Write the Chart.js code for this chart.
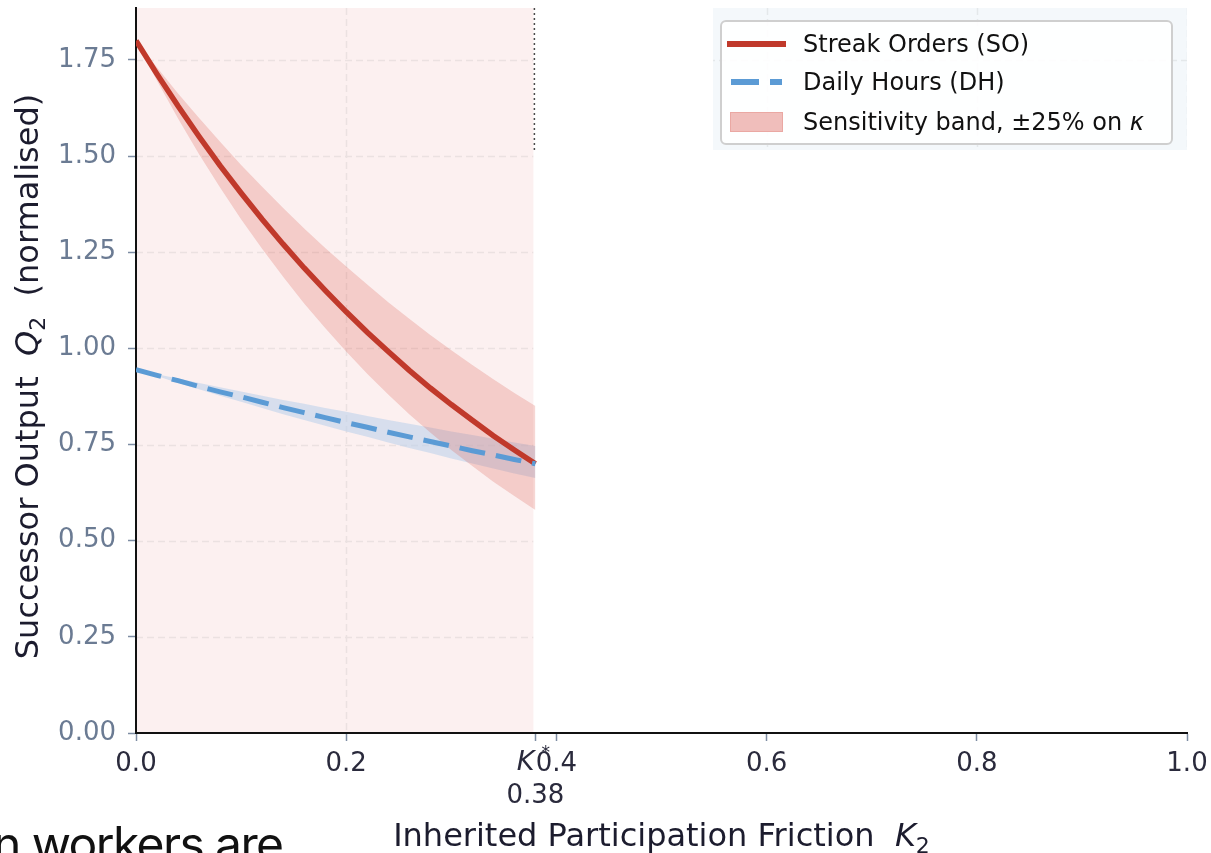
<!DOCTYPE html>
<html>
<head>
<meta charset="utf-8">
<script src="https://cdn.jsdelivr.net/npm/chart.js@4.4.1/dist/chart.umd.min.js"></script>
<style>
html, body { margin: 0; padding: 0; background: #fff; overflow: hidden; }
#wrap { position: relative; width: 1211px; height: 853px; }
#legend { position: absolute; left: 720px; top: 20px; width: 449px; height: 121px;
  border: 2px solid #cfcfcf; border-radius: 6px; background: rgba(255,255,255,0.9);
  font-family: "DejaVu Sans"; font-size: 24px; color: #111; }
.row { position: absolute; left: 0; height: 39px; display: flex; align-items: center; white-space: nowrap; }
.sw { position: relative; width: 59px; height: 20px; margin-left: 5px; margin-right: 17px; }
#tail { position: absolute; left: -7px; top: 814px; font-family: Inter; font-size: 48px;
  letter-spacing: -1.6px; color: #111; white-space: nowrap; }
</style>
</head>
<body>
<div id="wrap">
  <canvas id="myChart" width="1211" height="853"></canvas>
  <div id="legend">
    <div class="row" style="top:2px">
      <div class="sw"><div style="position:absolute;left:0;top:7px;width:59px;height:6px;background:#c0392b"></div></div>
      <span>Streak Orders (SO)</span>
    </div>
    <div class="row" style="top:40px">
      <div class="sw">
        <div style="position:absolute;left:4px;top:7px;width:28px;height:6px;background:#5b9bd5"></div>
        <div style="position:absolute;left:43px;top:7px;width:12px;height:6px;background:#5b9bd5"></div>
      </div>
      <span>Daily Hours (DH)</span>
    </div>
    <div class="row" style="top:80px">
      <div class="sw"><div style="position:absolute;left:3px;top:0;width:51px;height:18px;background:#f0bebb;border:1px solid #eaa8a3"></div></div>
      <span>Sensitivity band, ±25% on <i>κ</i></span>
    </div>
  </div>
  <div id="tail">n workers are</div>
</div>
<script>
// values
const friction  = [0, 0.02, 0.04, 0.06, 0.08, 0.10, 0.12, 0.14, 0.16, 0.18, 0.20,
                   0.22, 0.24, 0.26, 0.28, 0.30, 0.32, 0.34, 0.36, 0.38];
const soCentral = [1.800, 1.713, 1.630, 1.551, 1.475, 1.404, 1.336, 1.271, 1.209, 1.151, 1.095,
                   1.042, 0.992, 0.943, 0.897, 0.854, 0.813, 0.773, 0.736, 0.700];
const soUpper   = [1.800, 1.730, 1.663, 1.599, 1.537, 1.477, 1.420, 1.365, 1.312, 1.261, 1.213,
                   1.166, 1.120, 1.077, 1.035, 0.995, 0.957, 0.920, 0.884, 0.850];
const soLower   = [1.800, 1.696, 1.598, 1.505, 1.418, 1.336, 1.259, 1.186, 1.117, 1.053, 0.992,
                   0.934, 0.880, 0.829, 0.781, 0.736, 0.694, 0.653, 0.616, 0.580];
const dhCentral = [0.945, 0.930, 0.916, 0.901, 0.887, 0.874, 0.860, 0.846, 0.833, 0.820, 0.807,
                   0.795, 0.782, 0.770, 0.758, 0.746, 0.734, 0.723, 0.711, 0.700];
const dhUpper   = [0.945, 0.933, 0.922, 0.910, 0.899, 0.888, 0.877, 0.866, 0.856, 0.845, 0.835,
                   0.824, 0.814, 0.804, 0.794, 0.784, 0.775, 0.765, 0.755, 0.746];
const dhLower   = [0.945, 0.928, 0.910, 0.894, 0.877, 0.861, 0.845, 0.829, 0.814, 0.799, 0.784,
                   0.770, 0.755, 0.741, 0.728, 0.714, 0.701, 0.688, 0.675, 0.663];
const xTickValues = [0, 0.2, 0.38, 0.4, 0.6, 0.8, 1.0];
const kStar = 0.38;
const legendPanelFrom = [0.549, 1.516]; // x and y where the pale panel behind the legend starts

function pts(ys) {
  return friction.map((x, i) => ({x: x, y: ys[i]}));
}

// draws a run of text pieces [text, font, dy] centred on (0,0)
function drawParts(ctx, parts) {
  let total = 0;
  parts.forEach(p => { ctx.font = p[1]; total += ctx.measureText(p[0]).width; });
  let cx = -total / 2;
  parts.forEach(p => {
    ctx.font = p[1];
    ctx.fillText(p[0], cx, p[2]);
    cx += ctx.measureText(p[0]).width;
  });
}

const backdrop = {
  id: 'backdrop',
  beforeDraw(chart) {
    const {ctx, chartArea, scales: {x, y}} = chart;
    const xk = x.getPixelForValue(kStar) - 2;
    const px = x.getPixelForValue(legendPanelFrom[0]);
    const py = y.getPixelForValue(legendPanelFrom[1]);
    const rects = [
      [chartArea.left, chartArea.top, xk - chartArea.left, chartArea.bottom - chartArea.top, '#fcf0f0'],
      [px, chartArea.top, chartArea.right - px, py - chartArea.top, '#f4f8fb']
    ];
    ctx.save();
    rects.forEach(r => {
      ctx.fillStyle = r[4];
      ctx.fillRect(r[0], r[1], r[2], r[3]);
    });
    // grid shows only on the tinted areas
    ctx.strokeStyle = 'rgba(150,150,150,0.16)';
    ctx.lineWidth = 1.5;
    ctx.setLineDash([7, 4]);
    rects.forEach(r => {
      ctx.save();
      ctx.beginPath();
      ctx.rect(r[0], r[1], r[2], r[3]);
      ctx.clip();
      ctx.beginPath();
      x.ticks.forEach(t => {
        if (t.value === 0 || t.value === kStar) return;
        const xp = Math.round(x.getPixelForValue(t.value)) + 0.5;
        ctx.moveTo(xp, chartArea.top);
        ctx.lineTo(xp, chartArea.bottom);
      });
      y.ticks.forEach(t => {
        if (t.value === 0) return;
        const yp = Math.round(y.getPixelForValue(t.value)) + 0.5;
        ctx.moveTo(chartArea.left, yp);
        ctx.lineTo(chartArea.right, yp);
      });
      ctx.stroke();
      ctx.restore();
    });
    ctx.restore();
  },
  afterDatasetsDraw(chart) {
    const {ctx, chartArea, scales: {x, y}} = chart;
    const xk = x.getPixelForValue(kStar) - 1;
    ctx.save();
    ctx.strokeStyle = '#4a4a4a';
    ctx.lineWidth = 1.5;
    ctx.setLineDash([2, 3]);
    ctx.beginPath();
    ctx.moveTo(xk, chartArea.top);
    ctx.lineTo(xk, y.getPixelForValue(legendPanelFrom[1]));
    ctx.stroke();
    ctx.restore();
  },
  afterDraw(chart) {
    const {ctx, chartArea, scales: {x}} = chart;
    const xk = x.getPixelForValue(kStar);
    const top = x.top + 8 + 9;
    ctx.save();
    ctx.fillStyle = '#2a2a3c';
    ctx.textBaseline = 'top';
    ctx.textAlign = 'right';
    ctx.font = 'italic 27px "DejaVu Sans"';
    ctx.fillText('K', xk - 1, top - 1);
    ctx.textAlign = 'left';
    ctx.font = '17px "DejaVu Sans"';
    ctx.fillText('*', xk + 6, top - 5);

    // axis titles
    ctx.fillStyle = '#1c1c2e';
    ctx.textBaseline = 'alphabetic';
    ctx.textAlign = 'left';
    ctx.save();
    ctx.translate((chartArea.left + chartArea.right) / 2, 846);
    drawParts(ctx, [
      ['Inherited Participation Friction  ', '32px "DejaVu Sans"', 0],
      ['K', 'italic 32px "DejaVu Sans"', 0],
      ['2', '22px "DejaVu Sans"', 7]
    ]);
    ctx.restore();
    ctx.save();
    ctx.translate(38, (chartArea.top + chartArea.bottom) / 2 + 6);
    ctx.rotate(-Math.PI / 2);
    drawParts(ctx, [
      ['Successor Output  ', '32px "DejaVu Sans"', 0],
      ['Q', 'italic 32px "DejaVu Sans"', 0],
      ['2', '22px "DejaVu Sans"', 7],
      ['  (normalised)', '32px "DejaVu Sans"', 0]
    ]);
    ctx.restore();
    ctx.restore();
  }
};

const ctx = document.getElementById('myChart').getContext('2d');
const myChart = new Chart(ctx, {
  type: 'line',
  data: {
    datasets: [
      {
        label: 'Daily Hours (DH)',
        data: pts(dhCentral),
        borderColor: '#5b9bd5',
        borderWidth: 5,
        borderDash: [26, 11],
        pointRadius: 0,
        fill: false
      },
      {
        label: 'Streak Orders (SO)',
        data: pts(soCentral),
        borderColor: '#c0392b',
        borderWidth: 5.5,
        pointRadius: 0,
        fill: false
      },
      {
        label: 'SO upper',
        data: pts(soUpper),
        borderWidth: 0,
        pointRadius: 0,
        backgroundColor: 'rgba(220, 95, 85, 0.25)',
        fill: '+1'
      },
      {
        label: 'SO lower',
        data: pts(soLower),
        borderWidth: 0,
        pointRadius: 0,
        fill: false
      },
      {
        label: 'DH upper',
        data: pts(dhUpper),
        borderWidth: 0,
        pointRadius: 0,
        backgroundColor: 'rgba(190, 210, 235, 0.6)',
        fill: '+1'
      },
      {
        label: 'DH lower',
        data: pts(dhLower),
        borderWidth: 0,
        pointRadius: 0,
        fill: false
      }
    ]
  },
  options: {
    responsive: false,
    animation: false,
    devicePixelRatio: 1,
    layout: { padding: { top: 8, right: 24, left: 0, bottom: 0 } },
    plugins: {
      legend: { display: false },
      tooltip: { enabled: false }
    },
    scales: {
      x: {
        type: 'linear',
        min: 0,
        max: 1,
        afterFit(scale) { scale.height = 120; scale.paddingRight = 0; scale.paddingLeft = 0; },
        afterBuildTicks(scale) { scale.ticks = xTickValues.map(v => ({value: v})); },
        ticks: {
          autoSkip: false,
          maxRotation: 0,
          padding: 8,
          color: '#2a2a3c',
          font: { family: 'DejaVu Sans', size: 26 },
          callback: v => (v === kStar ? ['', '0.38'] : v.toFixed(1))
        },
        grid: {
          color: 'rgba(0,0,0,0)',
          tickLength: 8,
          tickColor: '#7d8ca3',
          tickWidth: 1.5
        },
        border: { color: '#111', width: 2 }
      },
      y: {
        type: 'linear',
        min: 0,
        max: 1.885,
        afterFit(scale) { scale.width = 136; scale.paddingTop = 0; scale.paddingBottom = 0; },
        ticks: {
          stepSize: 0.25,
          includeBounds: false,
          padding: 12,
          color: '#6b7b93',
          font: { family: 'DejaVu Sans', size: 26 },
          callback: v => v.toFixed(2)
        },
        grid: {
          color: 'rgba(0,0,0,0)',
          tickLength: 8,
          tickColor: '#7d8ca3',
          tickWidth: 1.5
        },
        border: { color: '#111', width: 2 }
      }
    }
  },
  plugins: [backdrop]
});
</script>
</body>
</html>
